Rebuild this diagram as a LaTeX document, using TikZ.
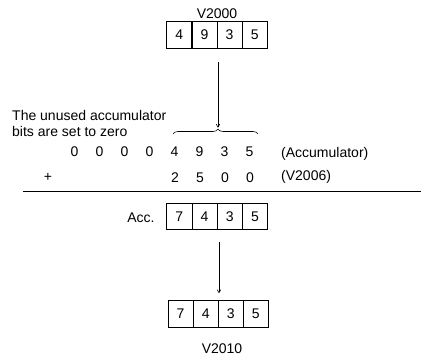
\documentclass[tikz,border=0pt]{standalone}
\usepackage{fontspec}
\setmainfont{Liberation Sans}
\usetikzlibrary{decorations.pathreplacing,arrows.meta}
\begin{document}
\begin{tikzpicture}[x=1pt,y=-1pt,
  every node/.style={font=\fontsize{14}{16}\selectfont},
  cell/.style={draw=black,line width=0.7pt,minimum width=25.1pt,minimum height=26.5pt,inner sep=0pt,outer sep=0pt,anchor=center},
  txt/.style={inner sep=0pt,anchor=base},
  txtw/.style={inner sep=0pt,anchor=base west},
  arr/.style={line width=0.6pt,-{To[length=3.5pt,width=4pt]}},
  rule/.style={line width=0.7pt}]
\useasboundingbox (0,0) rectangle (423,356);
% top register
\node[txt] (v2000) at (217,18) {V2000};
\foreach \d/\i in {4/1,9/2,3/3,5/4}
  \node[cell] (t\i) at (166.7+25.15*\i-12.6,35) {\d};
% brace and arrow
\coordinate (a1s) at (218,62);
\coordinate (bl) at (173,134);
\coordinate (br) at (258,134);
\coordinate (btip) at (218,127.5);
\draw[line width=0.6pt,decorate,decoration={brace,amplitude=5pt,aspect=0.53}] (bl) -- (br);
\draw[arr] (a1s) -- (btip);
% note
\node[txtw] (note1) at (12,120) {The unused accumulator};
\node[txtw] (note2) at (12,136) {bits are set to zero};
% accumulator row
\foreach \d [count=\i] in {0,0,0,0,4,9,3,5}
  \node[txt] (r\i) at (74.5+25*\i-25,156) {\d};
\node[txtw] (acclab) at (281,157) {(Accumulator)};
% V2006 row
\node[inner sep=0pt] (plus) at (48,177) {+};
\foreach \d [count=\i] in {2,5,0,0}
  \node[txt] (s\i) at (175+25*\i-25,182) {\d};
\node[txtw] (v2006) at (281,180.5) {(V2006)};
\coordinate (rl) at (23,191);
\coordinate (rr) at (421,191);
\draw[rule] (rl) -- (rr);
% result accumulator
\node[txt] (acc) at (141,222) {Acc.};
\foreach \d/\i in {7/1,4/2,3/3,5/4}
  \node[cell] (c\i) at (166.7+25.2*\i-12.6,216.5) {\d};
% arrow to V2010
\coordinate (a2s) at (219,242);
\coordinate (a2e) at (219,293);
\draw[arr] (a2s) -- (a2e);
\foreach \d/\i in {7/1,4/2,3/3,5/4}
  \node[cell] (b\i) at (168+25.1*\i-12.55,314) {\d};
\node[txt] (v2010) at (222,353) {V2010};
\end{tikzpicture}
\end{document}
